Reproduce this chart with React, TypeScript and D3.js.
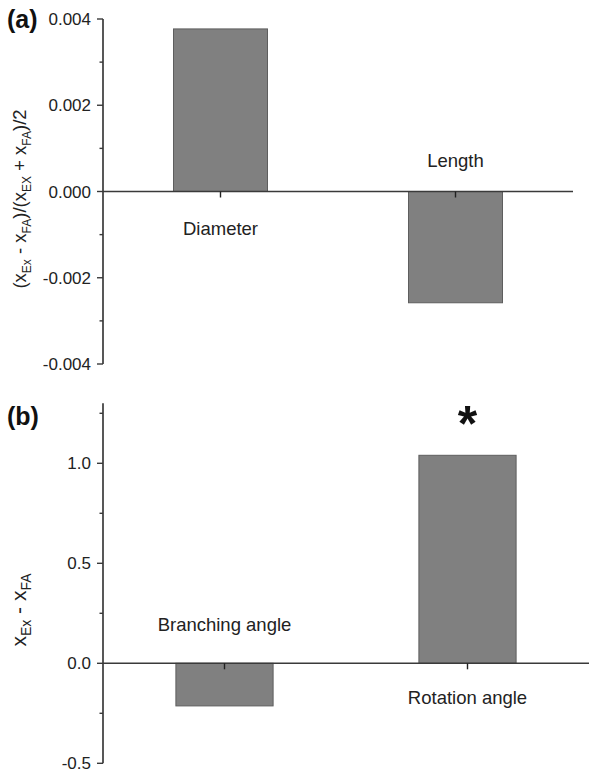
import * as d3 from 'd3';

// panel (a)
const catsA = ['Diameter', 'Length'];
const valsA = [0.00377, -0.00258];
const ticksA = [-0.004, -0.002, 0, 0.002, 0.004];
const minorA = [-0.003, -0.001, 0.001, 0.003];

// panel (b)
const catsB = ['Branching angle', 'Rotation angle'];
const valsB = [-0.213, 1.04];
const ticksB = [-0.5, 0, 0.5, 1.0];
const minorB = [-0.25, 0.25, 0.75, 1.25];
const starB = [false, true];

const AXIS = '#3a3a3a';
const BAR = '#808080';
const BAR_STROKE = '#5e5e5e';
const FONT = 'Arial, "Liberation Sans", Helvetica, sans-serif';

function Panel({ cats, vals, ticks, minor, y, x, fmt, axisTop, labelOff, stars }) {
  const x0 = x.range()[0];
  const x1 = x.range()[1];
  const zero = y(0);
  return (
    <g>
      {/* bars */}
      {cats.map((c, i) => (
        <rect key={c}
          x={x(c)} width={x.bandwidth()}
          y={Math.min(y(vals[i]), zero)} height={Math.abs(y(vals[i]) - zero)}
          fill={BAR} stroke={BAR_STROKE} strokeWidth={1} />
      ))}
      {/* y axis */}
      <line x1={x0} x2={x0} y1={y(axisTop)} y2={y.range()[0]} stroke={AXIS} strokeWidth={1.7} />
      {ticks.map((t) => (
        <g key={t}>
          <line x1={x0 - 6} x2={x0} y1={y(t)} y2={y(t)} stroke={AXIS} strokeWidth={1.4} />
          <text x={x0 - 12} y={y(t)} dy="0.36em" textAnchor="end" fontSize={17} fill="#222" fontFamily={FONT}>{fmt(t)}</text>
        </g>
      ))}
      {minor.map((t) => (
        <line key={t} x1={x0 - 3.5} x2={x0} y1={y(t)} y2={y(t)} stroke={AXIS} strokeWidth={1.4} />
      ))}
      {/* zero line */}
      <line x1={x0} x2={x1} y1={zero} y2={zero} stroke={AXIS} strokeWidth={1.5} />
      {cats.map((c, i) => {
        const cx = x(c) + x.bandwidth() / 2;
        const below = vals[i] > 0;
        return (
          <g key={c}>
            <line x1={cx} x2={cx} y1={zero} y2={zero + 6} stroke="#222" strokeWidth={1.4} />
            <text x={cx} y={below ? zero + labelOff[1] : zero - labelOff[0]} textAnchor="middle"
              fontSize={18.5} fill="#222" fontFamily={FONT}>{c}</text>
            {stars && stars[i] && (
              <text x={cx} y={y(vals[i]) - 14} textAnchor="middle" fontSize={50} fontWeight="bold"
                fill="#111" fontFamily={FONT}>*</text>
            )}
          </g>
        );
      })}
    </g>
  );
}

export default function App() {
  const yA = d3.scaleLinear().domain([-0.004, 0.004]).range([364, 19]);
  const xA = d3.scaleBand().domain(catsA).range([103, 573]).paddingInner(0.6).paddingOuter(0.3);
  const yB = d3.scaleLinear().domain([-0.5, 1.0]).range([763.3, 463.3]);
  const xB = d3.scaleBand().domain(catsB).range([103, 589]).paddingInner(0.6).paddingOuter(0.3);
  const fmtA = (v) => d3.format('.3f')(v).replace('\u2212', '-');
  const fmtB = (v) => d3.format('.1f')(v).replace('\u2212', '-');

  return (
    <svg width={589} height={775} style={{ position: 'absolute', left: 0, top: 0, background: '#fff' }}>
      <Panel cats={catsA} vals={valsA} ticks={ticksA} minor={minorA} y={yA} x={xA}
        fmt={fmtA} axisTop={0.004} labelOff={[25, 43]} stars={null} />
      <Panel cats={catsB} vals={valsB} ticks={ticksB} minor={minorB} y={yB} x={xB}
        fmt={fmtB} axisTop={1.3} labelOff={[32, 41]} stars={starB} />

      <text x={7} y={28} fontSize={25} fontWeight="bold" fill="#111" fontFamily={FONT}>(a)</text>
      <text x={7} y={425} fontSize={25} fontWeight="bold" fill="#111" fontFamily={FONT}>(b)</text>

      <text transform="translate(26,199) rotate(-90)" textAnchor="middle" fontSize={18.5} fill="#222" fontFamily={FONT}>
        <tspan>(x</tspan><tspan fontSize={12} dy={5}>Ex</tspan>
        <tspan dy={-5}> - x</tspan><tspan fontSize={12} dy={5}>FA</tspan>
        <tspan dy={-5}>)/(x</tspan><tspan fontSize={12} dy={5}>EX</tspan>
        <tspan dy={-5}> + x</tspan><tspan fontSize={12} dy={5}>FA</tspan>
        <tspan dy={-5}>)/2</tspan>
      </text>
      <text transform="translate(26,610) rotate(-90)" textAnchor="middle" fontSize={21} fill="#222" fontFamily={FONT}>
        <tspan>x</tspan><tspan fontSize={14} dy={5}>Ex</tspan>
        <tspan dy={-5}> - x</tspan><tspan fontSize={14} dy={5}>FA</tspan>
      </text>
    </svg>
  );
}
